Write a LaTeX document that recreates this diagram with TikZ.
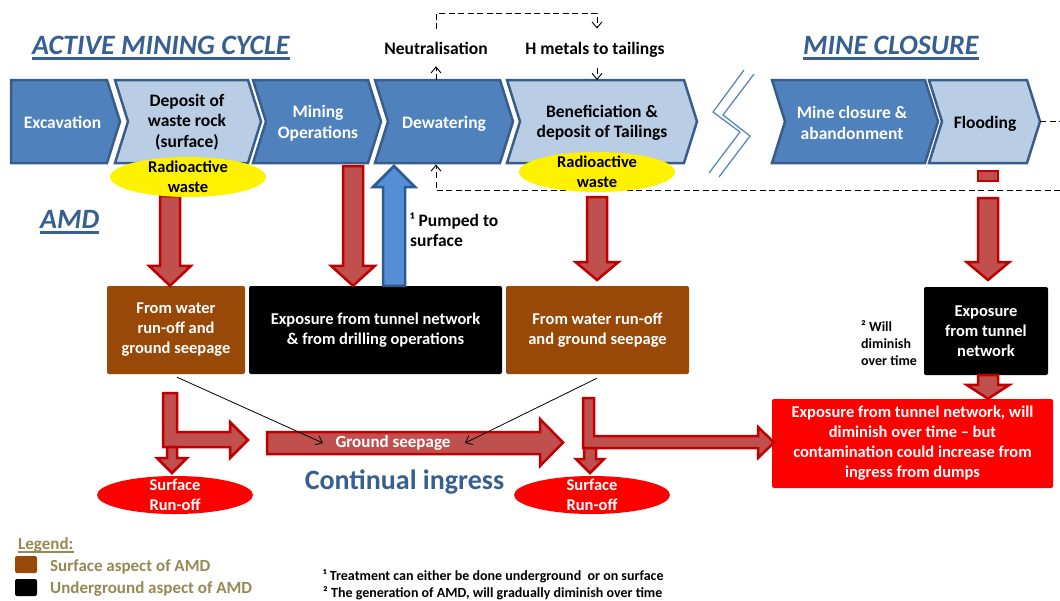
\documentclass[tikz,border=0pt]{standalone}
\usepackage{fontspec}
\setmainfont{Carlito}
\usetikzlibrary{arrows.meta,calc,shapes.geometric}

\definecolor{chevdark}{HTML}{4F81BD}
\definecolor{chevlight}{HTML}{B9CDE5}
\definecolor{chevline}{HTML}{385D8A}
\definecolor{titleblue}{HTML}{376092}
\definecolor{arrowfill}{HTML}{C0504D}
\definecolor{arrowline}{HTML}{C00000}
\definecolor{pumpfill}{HTML}{558ED5}
\definecolor{pumpline}{HTML}{2C5A8F}
\definecolor{surfbrown}{HTML}{984807}
\definecolor{legendolive}{HTML}{948A54}
\definecolor{alarmred}{HTML}{FF0000}

\newcommand\fsz[2]{\fontsize{#1}{#2}\selectfont}

% vertical block arrow: fill, line, start, tip, shaft half width, head half width, head length (signed)
\newcommand\vblock[7]{%
  \draw[fill=#1, draw=#2, line width=2.5pt, line join=miter]
    let \p1=(#3), \p2=(#4) in
    ({\x1-#5},\y1) -- ({\x1+#5},\y1) -- ({\x1+#5},{\y2+(#7)}) -- ({\x1+#6},{\y2+(#7)})
    -- (\x1,\y2) -- ({\x1-#6},{\y2+(#7)}) -- ({\x1-#5},{\y2+(#7)}) -- cycle;}

\tikzset{
  chev/.style={draw=chevline, line width=2.5pt, line join=miter},
  chevdk/.style={chev, fill=chevdark},
  chevlt/.style={chev, fill=chevlight},
  chevwhite/.style={text=white, font=\bfseries\fsz{17.5}{20.5}, align=center, inner sep=0pt},
  chevblack/.style={chevwhite, text=black},
  heading/.style={text=titleblue, font=\bfseries\itshape\fsz{28}{30}, inner sep=0pt},
  headrule/.style={draw=titleblue, line width=2.2pt},
  plainlbl/.style={font=\bfseries\fsz{17.5}{20}, inner sep=0pt, align=left},
  smalllbl/.style={font=\bfseries\fsz{14}{17}, inner sep=0pt, align=left},
  notelbl/.style={font=\bfseries\fsz{14}{17}, inner sep=0pt, align=left},
  dsh/.style={draw=black, line width=0.9pt, dash pattern=on 6pt off 3.5pt},
  barb/.style={-{Straight Barb[length=6pt,width=10pt]}},
  seep/.style={draw=black, line width=0.8pt, -{Straight Barb[length=6pt,width=10pt]}},
  blkred/.style={fill=arrowfill, draw=arrowline, line width=2.5pt, line join=miter},
  breakline/.style={draw=chevdark, line width=1.2pt},
  radio/.style={ellipse, fill=yellow, minimum width=156pt, minimum height=40pt, inner sep=0pt},
  runoff/.style={ellipse, fill=alarmred, minimum width=156pt, minimum height=38pt, inner sep=0pt},
  elltxt/.style={font=\bfseries\fsz{16.5}{20}, align=center, inner sep=0pt},
  amdbox/.style={rounded corners=2pt, minimum height=88pt, inner sep=0pt, text=white,
                 font=\bfseries\fsz{16.5}{20}, align=center},
  surfbox/.style={amdbox, fill=surfbrown},
  undbox/.style={amdbox, fill=black},
  legsq/.style={rounded corners=2pt, minimum width=22pt, minimum height=17pt, inner sep=0pt},
  legtxt/.style={text=legendolive, font=\bfseries\fsz{17}{20}, inner sep=0pt},
}

\begin{document}
\begin{tikzpicture}[x=1pt,y=-1pt]
\useasboundingbox (0,0) rectangle (1060,600);
\fill[white] (0,0) rectangle (1060,600);

% ---------- headings ----------
\node[heading, anchor=base west] (hActive) at (32,54) {ACTIVE MINING CYCLE};
\draw[headrule] ([yshift=-4.5pt]hActive.base west) -- ([yshift=-4.5pt]hActive.base east);
\node[heading, anchor=base west] (hClosure) at (803,54) {MINE CLOSURE};
\draw[headrule] ([yshift=-4.5pt]hClosure.base west) -- ([yshift=-4.5pt]hClosure.base east);
\node[heading, anchor=base west] (hAmd) at (40,228) {AMD};
\draw[headrule] ([yshift=-4.5pt]hAmd.base west) -- ([yshift=-4.5pt]hAmd.base east);

% ---------- process chevrons ----------
\draw[chevdk] (11,80) -- (107,80) -- (120,121.5) -- (107,163) -- (11,163) -- cycle;
\draw[chevlt] (115,80) -- (248,80) -- (261,121.5) -- (248,163) -- (115,163) -- (128,121.5) -- cycle;
\draw[chevdk] (253,80) -- (368,80) -- (381,121.5) -- (368,163) -- (253,163) -- (266,121.5) -- cycle;
\draw[chevdk] (375,80) -- (500,80) -- (513,121.5) -- (500,163) -- (375,163) -- (388,121.5) -- cycle;
\draw[chevlt] (507,80) -- (684,80) -- (697,121.5) -- (684,163) -- (507,163) -- (520,121.5) -- cycle;
\draw[chevdk] (772,80) -- (925,80) -- (938,121.5) -- (925,163) -- (772,163) -- (785,121.5) -- cycle;
\draw[chevlt] (929,80) -- (1027,80) -- (1040,121.5) -- (1027,163) -- (929,163) -- (942,121.5) -- cycle;

\node[chevwhite] (exc) at (62.5,122) {Excavation};
\node[chevblack] (dep) at (187,122) {Deposit of\\waste rock\\(surface)};
\node[chevwhite] (minop) at (318,123) {Mining\\Operations};
\node[chevwhite] (dew) at (444,124) {Dewatering};
\node[chevblack] (ben) at (602,123) {Beneficiation \&\\deposit of Tailings};
\node[chevwhite] (clo) at (852,123) {Mine closure \&\\abandonment};
\node[chevblack] (flo) at (985,124) {Flooding};

% break between the two phases
\draw[breakline] (744,70) -- (713,112) -- (740,132) -- (709,173);
\draw[breakline] (754,74) -- (723,115) -- (750,136) -- (719,177);

% ---------- water loop ----------
\node[plainlbl, anchor=base] (neut) at (436,54) {Neutralisation};
\node[plainlbl, anchor=base] (hmet) at (595,54) {H metals to tailings};
\coordinate (dewTop) at (436,80);
\coordinate (dewBot) at (436,164.5);
\coordinate (benTop) at (597,80);
\coordinate (floTip) at (1040,121.5);
\coordinate (loopN) at (1060,121.5);
\coordinate (loopS) at (1060,190.5);
\draw[dsh, barb, shorten >=12pt] (dewTop) -- (neut.south);
\draw[dsh, barb] ([yshift=12pt]neut.north) -- ++(0,-16) -| ([xshift=2pt,yshift=13pt]hmet.north);
\draw[dsh, barb] ([xshift=2pt,yshift=-11pt]hmet.south) -- (benTop);
\draw[dsh] (floTip) -- (loopN);
\draw[dsh, barb] (loopS) -| (dewBot);

% ---------- AMD sources ----------
\node[surfbox, minimum width=138pt] (b1) at (176,330) {From water\\run-off and\\ground seepage};
\node[undbox, minimum width=253pt] (bk1) at (375.5,330) {Exposure from tunnel network\\\& from drilling operations};
\node[surfbox, minimum width=183pt] (b2) at (597.5,330) {From water run-off\\and ground seepage};
\node[undbox, minimum width=124pt] (bk2) at (986,331) {Exposure\\from tunnel\\network};
\node[amdbox, fill=alarmred, minimum width=281pt, minimum height=89pt] (rb) at (912.5,443.5)
  {Exposure from tunnel network, will\\diminish over time -- but\\contamination could increase from\\ingress from dumps};

% block arrows into the sources
\coordinate (a1s) at (170,196);
\coordinate (a2s) at (353,166);
\coordinate (pumpTip) at (394,166);
\coordinate (a3s) at (597,197);
\coordinate (a3t) at (597,280);
\coordinate (a4s) at (988,198);
\coordinate (a4t) at (988,280);
\vblock{arrowfill}{arrowline}{a1s}{a1s |- b1.north}{10pt}{21pt}{20pt}
\vblock{arrowfill}{arrowline}{a2s}{a2s |- bk1.north}{10pt}{22pt}{20pt}
\vblock{pumpfill}{pumpline}{pumpTip |- bk1.north}{pumpTip}{11pt}{21pt}{-21pt}
\vblock{arrowfill}{arrowline}{a3s}{a3t}{10pt}{21.5pt}{18pt}
\draw[blkred] (978,171) rectangle (998,181);
\vblock{arrowfill}{arrowline}{a4s}{a4t}{10pt}{21.5pt}{18pt}
\vblock{arrowfill}{arrowline}{bk2.south -| a4s}{rb.north -| a4s}{10pt}{21.5pt}{14pt}

% radioactive waste
\node[radio] (rw1) at (188,177) {};
\node[elltxt] (rw1t) at (rw1) {Radioactive\\waste};
\node[radio] (rw2) at (597,172) {};
\node[elltxt] (rw2t) at (rw2) {Radioactive\\waste};

\node[plainlbl, anchor=west] (pump) at (410,230) {¹ Pumped to\\surface};
\node[smalllbl, anchor=west] (dimin) at (861,343) {² Will\\diminish\\over time};

% ---------- pathways ----------
\draw[blkred] (163,393) -- (177,393) -- (177,432) -- (230,432) -- (230,422) -- (248,440)
  -- (230,458) -- (230,447) -- (163,447) -- cycle;
\draw[blkred] (167,447) -- (177,447) -- (177,458) -- (187,458) -- (172,473) -- (157,458)
  -- (167,458) -- cycle;
\draw[blkred] (267,432) -- (540,432) -- (540,419) -- (563,442.5) -- (540,466) -- (540,454)
  -- (267,454) -- cycle;
\node[text=white, font=\bfseries\fsz{17}{20}, inner sep=0pt] (gs) at (393,443) {Ground seepage};
\draw[blkred] (583,398) -- (594,398) -- (594,436) -- (758,436) -- (758,427) -- (774,442.5)
  -- (758,458) -- (758,448) -- (583,448) -- cycle;
\draw[blkred] (584,448) -- (596,448) -- (596,459) -- (604,459) -- (590,473) -- (576,459)
  -- (584,459) -- cycle;

\coordinate (gsL) at (323,443);
\coordinate (gsR) at (465,443);
\draw[seep] ([xshift=1pt,yshift=-3pt]b1.south) -- (gsL);
\draw[seep] ([xshift=-0.5pt,yshift=-4pt]b2.south) -- (gsR);

\node[runoff] (ro1) at (175,495) {};
\node[elltxt, text=white] (ro1t) at (ro1) {Surface\\Run-off};
\node[runoff] (ro2) at (592,495) {};
\node[elltxt, text=white] (ro2t) at (ro2) {Surface\\Run-off};

\node[text=titleblue, font=\bfseries\fsz{28}{30}, inner sep=0pt] (ingress) at (404.5,482) {Continual ingress};

% ---------- legend ----------
\node[legtxt, anchor=base west] (leg) at (18,549) {Legend:};
\draw[legendolive, line width=1.2pt] ([yshift=-3pt]leg.base west) -- ([yshift=-3pt]leg.base east);
\node[legsq, fill=surfbrown] (lgS) at (26,564.5) {};
\node[legtxt, anchor=west] (lgSt) at (50,566.5) {Surface aspect of AMD};
\node[legsq, fill=black] (lgU) at (26,587.5) {};
\node[legtxt, anchor=west] (lgUt) at (50,589) {Underground aspect of AMD};

% ---------- notes ----------
\node[notelbl, anchor=west] (n1) at (323,576) {¹ Treatment can either be done underground\ \ or on surface};
\node[notelbl, anchor=west] (n2) at (323,593) {² The generation of AMD, will gradually diminish over time};
\end{tikzpicture}
\end{document}
